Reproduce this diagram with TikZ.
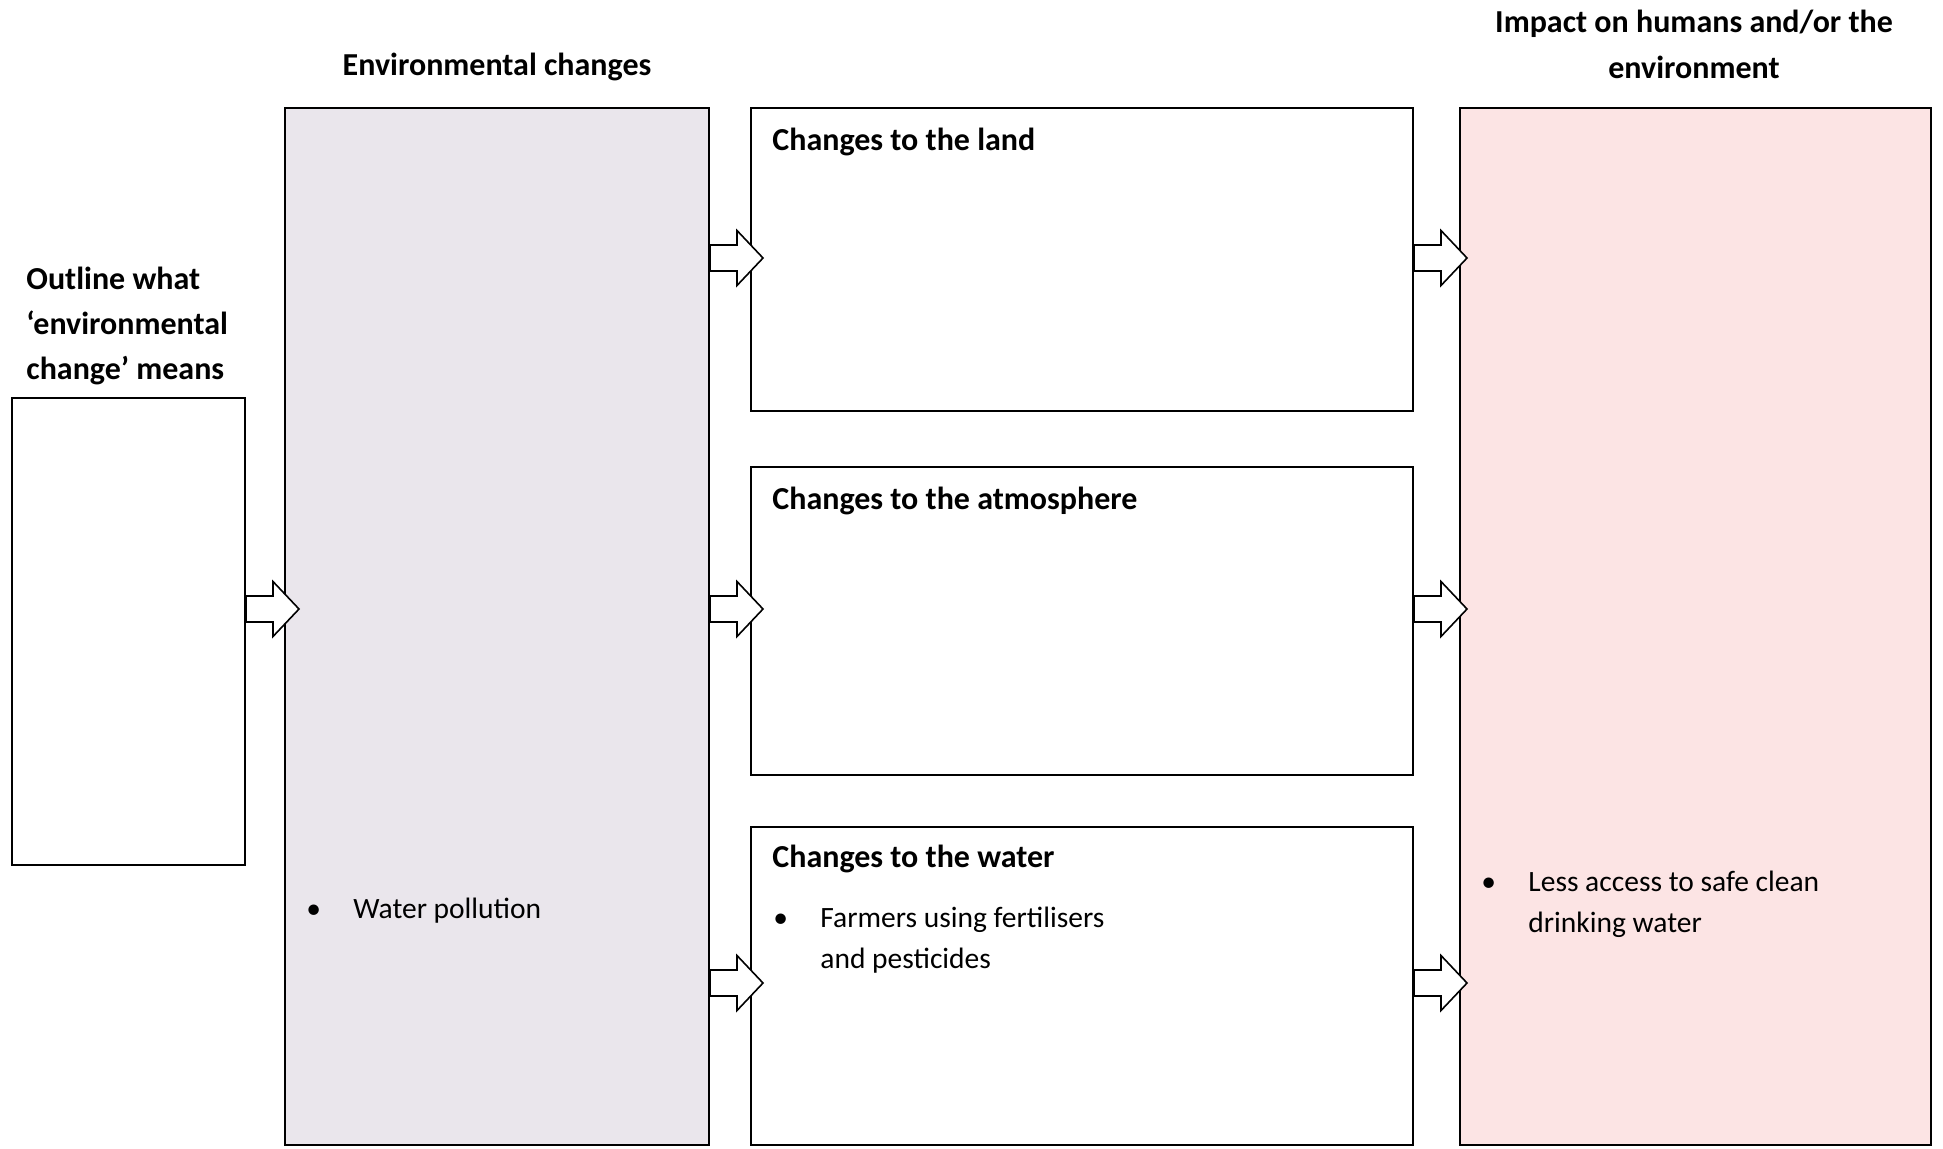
\documentclass[tikz,border=0pt]{standalone}
\usepackage{fontspec}
\setmainfont{Carlito}
\usetikzlibrary{fit,calc}
\definecolor{envfill}{HTML}{EAE6EC}
\definecolor{impfill}{HTML}{FCE4E4}
\tikzset{
  box/.style={draw=black, line width=1pt, inner sep=0pt, fill=white},
  arrowst/.style={draw=black, fill=white, line width=0.8pt, line join=miter},
  ttl/.style={font=\fontsize{16}{22.75}\selectfont\bfseries, inner sep=0pt, align=left},
  body/.style={font=\fontsize{14.75}{20.5}\selectfont, inner sep=0pt, align=left}
}
\newcommand{\blockarr}[2]{\filldraw[arrowst] (#1 |- #2) ++(0,13) -- ++(27,0) -- ++(0,14.5) -- ++(26,-27.5) -- ++(-26,-27.5) -- ++(0,14.5) -- ++(-27,0) -- cycle;}
\begin{document}
\begin{tikzpicture}[x=0.5pt,y=-0.5pt]
\useasboundingbox (0,0) rectangle (1943,1148);
% boxes
\node[box, fit={(12,398)(245,865)}] (outline) {};
\node[box, fill=envfill, fit={(285,108)(709,1145)}] (env) {};
\node[box, fit={(751,108)(1413,411)}] (land) {};
\node[box, fit={(751,467)(1413,775)}] (atmos) {};
\node[box, fit={(751,827)(1413,1145)}] (water) {};
\node[box, fill=impfill, fit={(1460,108)(1931,1145)}] (impact) {};
% rows
\coordinate (r1) at (0,258);
\coordinate (r2) at (0,609);
\coordinate (r3) at (0,983);
% arrows
\blockarr{outline.east}{r2}
\blockarr{env.east}{r1}
\blockarr{env.east}{r2}
\blockarr{env.east}{r3}
\blockarr{land.east}{r1}
\blockarr{atmos.east}{r2}
\blockarr{water.east}{r3}
% titles
\node[ttl, anchor=base] (t1) at (497,75) {Environmental changes};
\node[ttl, anchor=base] (t2) at (1694,32) {Impact on humans and/or the};
\node[ttl, anchor=base] (t3) at (1694,78) {environment};
\node[ttl, anchor=base west] (o1) at (26,289) {Outline what};
\node[ttl, anchor=base west] (o2) at (26,334) {‘environmental};
\node[ttl, anchor=base west] (o3) at (26,379) {change’ means};
\node[ttl, anchor=base west] (l1) at (772,150) {Changes to the land};
\node[ttl, anchor=base west] (a1) at (772,509) {Changes to the atmosphere};
\node[ttl, anchor=base west] (w1) at (772,867) {Changes to the water};
% bullets
\node[body, anchor=base west] (b1) at (306,918) {•};
\node[body, anchor=base west] (b1t) at (353,918) {Water pollution};
\node[body, anchor=base west] (b2) at (773,927) {•};
\node[body, anchor=base west] (b2t) at (820,927) {Farmers using fertilisers};
\node[body, anchor=base west] (b2u) at (820,968) {and pesticides};
\node[body, anchor=base west] (b3) at (1481,891) {•};
\node[body, anchor=base west] (b3t) at (1528,891) {Less access to safe clean};
\node[body, anchor=base west] (b3u) at (1528,932) {drinking water};
\end{tikzpicture}
\end{document}
